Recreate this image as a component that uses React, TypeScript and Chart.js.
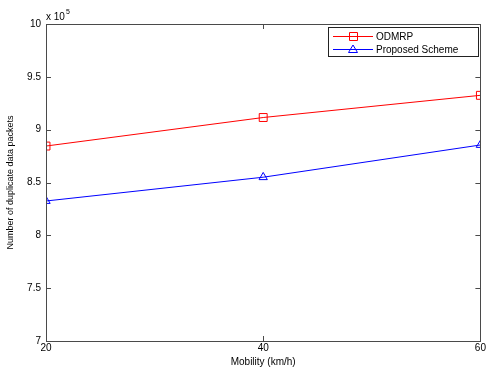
import React, { useEffect, useRef } from 'react';
import { Chart, registerables } from 'chart.js';

Chart.register(...registerables);

const mobility = [20, 40, 60];
const odmrp = [8.845, 9.115, 9.325];
const proposed = [8.325, 8.55, 8.855];
const xTicks = [20, 40, 60];
const yTicks = [7, 7.5, 8, 8.5, 9, 9.5, 10];
const seriesNames = ['ODMRP', 'Proposed Scheme'];
const seriesColors = ['#ff0000', '#0000ff'];
const xTitle = 'Mobility (km/h)';
const yTitle = 'Number of duplicate data packets';
const exponentText = '5';

const FONT = "'Liberation Sans', Arial, Helvetica, sans-serif";

const matlabPlugin = {
  id: 'matlabAxes',
  afterDatasetsDraw(chart: any) {
    const { ctx, chartArea } = chart;
    const { left, right, top, bottom } = chartArea;
    const xs = chart.scales.x;
    const ys = chart.scales.y;
    ctx.save();
    // box
    ctx.strokeStyle = '#4a4a4a';
    ctx.lineWidth = 1;
    ctx.strokeRect(Math.round(left) + 0.5, Math.round(top) + 0.5, Math.round(right - left), Math.round(bottom - top));
    // inward ticks
    const tl = 5;
    ctx.beginPath();
    yTicks.forEach((v) => {
      const y = Math.round(ys.getPixelForValue(v)) + 0.5;
      ctx.moveTo(left, y); ctx.lineTo(left + tl, y);
      ctx.moveTo(right, y); ctx.lineTo(right - tl, y);
    });
    xTicks.forEach((v) => {
      const x = Math.round(xs.getPixelForValue(v)) + 0.5;
      ctx.moveTo(x, bottom); ctx.lineTo(x, bottom - tl);
      ctx.moveTo(x, top); ctx.lineTo(x, top + tl);
    });
    ctx.stroke();
    // exponent
    ctx.fillStyle = '#000';
    ctx.textBaseline = 'alphabetic';
    ctx.textAlign = 'left';
    ctx.font = `10px ${FONT}`;
    ctx.fillText('x 10', left, top - 4);
    const w = ctx.measureText('x 10').width;
    ctx.font = `7px ${FONT}`;
    ctx.fillText(exponentText, left + w + 1, top - 10);
    // legend
    const lx = 328, ly = 27, lw = 150, lh = 29;
    ctx.fillStyle = '#fff';
    ctx.fillRect(lx, ly, lw, lh);
    ctx.strokeStyle = '#222';
    ctx.strokeRect(lx + 0.5, ly + 0.5, lw, lh);
    const rows = [ly + 9, ly + 22];
    chart.data.datasets.forEach((ds: any, i: number) => {
      const y = rows[i] + 0.5;
      ctx.strokeStyle = ds.borderColor;
      ctx.lineWidth = 1;
      ctx.beginPath();
      ctx.moveTo(lx + 5, y); ctx.lineTo(lx + 45, y);
      ctx.stroke();
      ctx.beginPath();
      if (ds.pointStyle === 'rect') {
        ctx.rect(lx + 21.5, y - 4, 8, 8);
      } else {
        ctx.moveTo(lx + 25, y - 4.5);
        ctx.lineTo(lx + 29.5, y + 3);
        ctx.lineTo(lx + 20.5, y + 3);
        ctx.closePath();
      }
      ctx.stroke();
      ctx.fillStyle = '#000';
      ctx.font = `10px ${FONT}`;
      ctx.textBaseline = 'middle';
      ctx.fillText(ds.label, lx + 48, y + 0.5);
    });
    ctx.restore();
  },
};

export default function App() {
  const ref = useRef<HTMLCanvasElement>(null);
  useEffect(() => {
    if (!ref.current) return;
    const chart = new Chart(ref.current, {
      type: 'line',
      data: {
        datasets: [
          {
            label: seriesNames[0],
            data: mobility.map((x, i) => ({ x, y: odmrp[i] })),
            borderColor: seriesColors[0],
            backgroundColor: 'transparent',
            borderWidth: 1,
            pointStyle: 'rect',
            pointRadius: 5.6,
            pointBorderWidth: 1,
            pointBorderColor: seriesColors[0],
            pointBackgroundColor: 'transparent',
            tension: 0,
          },
          {
            label: seriesNames[1],
            data: mobility.map((x, i) => ({ x, y: proposed[i] })),
            borderColor: seriesColors[1],
            backgroundColor: 'transparent',
            borderWidth: 1,
            pointStyle: 'triangle',
            pointRadius: 4.8,
            pointBorderWidth: 1,
            pointBorderColor: seriesColors[1],
            pointBackgroundColor: 'transparent',
            tension: 0,
          },
        ],
      },
      options: {
        responsive: false,
        animation: false,
        events: [],
        layout: { padding: { top: 24, right: 4, left: 0, bottom: 0 } },
        plugins: { legend: { display: false }, tooltip: { enabled: false } },
        scales: {
          x: {
            type: 'linear',
            min: 20,
            max: 60,
            afterBuildTicks: (s: any) => { s.ticks = xTicks.map((v) => ({ value: v })); },
            afterFit: (s: any) => { s.height = 29; s.paddingLeft = 0; s.paddingRight = 0; },
            grid: { display: false, drawTicks: false },
            border: { display: false },
            ticks: { color: '#000', font: { family: FONT, size: 10 }, padding: 1, maxRotation: 0, callback: (v: any) => String(v) },
            title: { display: true, text: xTitle, color: '#000', font: { family: FONT, size: 10 }, padding: { top: 0, bottom: 2 } },
          },
          y: {
            type: 'linear',
            min: 7,
            max: 10,
            afterBuildTicks: (s: any) => { s.ticks = yTicks.map((v) => ({ value: v })); },
            afterFit: (s: any) => { s.width = 46; s.paddingTop = 0; s.paddingBottom = 0; },
            grid: { display: false, drawTicks: false },
            border: { display: false },
            ticks: { color: '#000', font: { family: FONT, size: 10 }, padding: 5, callback: (v: any) => String(v) },
            title: { display: true, text: yTitle, color: '#000', font: { family: FONT, size: 9 }, padding: { top: 5, bottom: 0 } },
          },
        },
      },
      plugins: [matlabPlugin],
    });
    return () => chart.destroy();
  }, []);
  return (
    <div style={{ position: 'absolute', left: 0, top: 0, width: 487, height: 370, background: '#fff' }}>
      <canvas ref={ref} width={487} height={370} />
    </div>
  );
}
